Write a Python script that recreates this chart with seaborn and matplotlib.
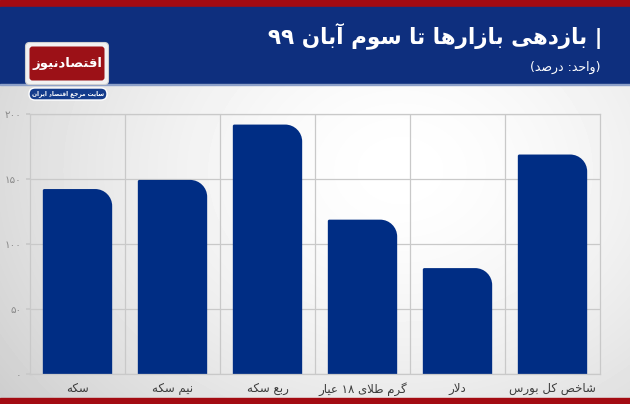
import numpy as np
import pandas as pd
import matplotlib.pyplot as plt
import seaborn as sns
from matplotlib.path import Path
from matplotlib.patches import PathPatch, Rectangle, FancyBboxPatch

# chart data
categories = ['سکه', 'نیم سکه', 'ربع سکه', 'گرم طلای ۱۸ عیار', 'دلار', 'شاخص کل بورس']
returns = [142, 149, 191.5, 118.5, 81.3, 168.5]
y_ticks = [0, 50, 100, 150, 200]
y_tick_labels = ['۰', '۵۰', '۱۰۰', '۱۵۰', '۲۰۰']
title = '| بازدهی بازارها تا سوم آبان ۹۹'
subtitle = '(واحد: درصد)'
logo_name = 'اقتصادنیوز'
logo_tag = 'سایت مرجع اقتصاد ایران'

# minimal arabic/persian shaping, matplotlib has no text shaping
FORMS = {
    'ا': ('\uFE8D', '\uFE8E', None, None),
    'آ': ('\uFE81', '\uFE82', None, None),
    'ب': ('\uFE8F', '\uFE90', '\uFE91', '\uFE92'),
    'پ': ('\uFB56', '\uFB57', '\uFB58', '\uFB59'),
    'ت': ('\uFE95', '\uFE96', '\uFE97', '\uFE98'),
    'ث': ('\uFE99', '\uFE9A', '\uFE9B', '\uFE9C'),
    'ج': ('\uFE9D', '\uFE9E', '\uFE9F', '\uFEA0'),
    'چ': ('\uFB7A', '\uFB7B', '\uFB7C', '\uFB7D'),
    'ح': ('\uFEA1', '\uFEA2', '\uFEA3', '\uFEA4'),
    'خ': ('\uFEA5', '\uFEA6', '\uFEA7', '\uFEA8'),
    'د': ('\uFEA9', '\uFEAA', None, None),
    'ذ': ('\uFEAB', '\uFEAC', None, None),
    'ر': ('\uFEAD', '\uFEAE', None, None),
    'ز': ('\uFEAF', '\uFEB0', None, None),
    'ژ': ('\uFB8A', '\uFB8B', None, None),
    'س': ('\uFEB1', '\uFEB2', '\uFEB3', '\uFEB4'),
    'ش': ('\uFEB5', '\uFEB6', '\uFEB7', '\uFEB8'),
    'ص': ('\uFEB9', '\uFEBA', '\uFEBB', '\uFEBC'),
    'ض': ('\uFEBD', '\uFEBE', '\uFEBF', '\uFEC0'),
    'ط': ('\uFEC1', '\uFEC2', '\uFEC3', '\uFEC4'),
    'ظ': ('\uFEC5', '\uFEC6', '\uFEC7', '\uFEC8'),
    'ع': ('\uFEC9', '\uFECA', '\uFECB', '\uFECC'),
    'غ': ('\uFECD', '\uFECE', '\uFECF', '\uFED0'),
    'ف': ('\uFED1', '\uFED2', '\uFED3', '\uFED4'),
    'ق': ('\uFED5', '\uFED6', '\uFED7', '\uFED8'),
    'ک': ('\uFB8E', '\uFB8F', '\uFB90', '\uFB91'),
    'گ': ('\uFB92', '\uFB93', '\uFB94', '\uFB95'),
    'ل': ('\uFEDD', '\uFEDE', '\uFEDF', '\uFEE0'),
    'م': ('\uFEE1', '\uFEE2', '\uFEE3', '\uFEE4'),
    'ن': ('\uFEE5', '\uFEE6', '\uFEE7', '\uFEE8'),
    'و': ('\uFEED', '\uFEEE', None, None),
    'ه': ('\uFEE9', '\uFEEA', '\uFEEB', '\uFEEC'),
    'ی': ('\uFBFC', '\uFBFD', '\uFBFE', '\uFBFF'),
    '\uFEFB': ('\uFEFB', '\uFEFC', None, None),
    '\uFEF5': ('\uFEF5', '\uFEF6', None, None),
}
MIRROR = {'(': ')', ')': '('}
DIGITS = set('0123456789۰۱۲۳۴۵۶۷۸۹')


def fa(text):
    s = text.replace('لا', '\uFEFB').replace('لآ', '\uFEF5')
    n = len(s)
    shaped = []
    for i, c in enumerate(s):
        if c not in FORMS:
            shaped.append(c)
            continue
        jp = i > 0 and s[i - 1] in FORMS and FORMS[s[i - 1]][2] is not None
        jn = FORMS[c][2] is not None and i + 1 < n and s[i + 1] in FORMS
        f = FORMS[c]
        shaped.append(f[3] if jp and jn else f[1] if jp else f[2] if jn else f[0])
    groups = []
    for ch in shaped:
        d = ch in DIGITS
        if groups and d and groups[-1][0]:
            groups[-1][1].append(ch)
        else:
            groups.append([d, [ch]])
    out = ''
    for d, chs in reversed(groups):
        out += ''.join(chs) if d else ''.join(MIRROR.get(c, c) for c in reversed(chs))
    return out


sns.set_theme(style='white')
plt.rcParams['font.family'] = ['DejaVu Sans']

W, H = 630, 404
fig = plt.figure(figsize=(W / 100, H / 100), dpi=100)

# background in pixel coordinates
bg = fig.add_axes([0, 0, 1, 1])
bg.set_xlim(0, W)
bg.set_ylim(H, 0)
bg.axis('off')
yy, xx = np.mgrid[0:H, 0:W]
d = np.sqrt(((xx - 400) / 420.0) ** 2 + ((yy - 170) / 330.0) ** 2)
grad = 1.0 - 0.15 * np.clip(d, 0, 1.3) ** 1.6
bg.imshow(grad, cmap='gray', vmin=0, vmax=1, extent=(0, W, H, 0), aspect='auto', zorder=0)

bg.add_patch(Rectangle((0, 0), W, 7, color='#a30b12', zorder=1))
bg.add_patch(Rectangle((0, 7), W, 77, color='#0e2f7e', zorder=1))
bg.add_patch(Rectangle((0, 84), W, 1.2, color='#8da0c8', zorder=1))
bg.add_patch(Rectangle((0, 398), W, 6, color='#a30b12', zorder=1))

bg.text(602, 43, fa(title), color='white', fontsize=15.5, fontweight='bold',
        ha='right', va='baseline', zorder=3)
bg.text(600, 67, fa(subtitle), color='white', fontsize=9,
        ha='right', va='center', zorder=3)

# logo
bg.add_patch(FancyBboxPatch((27, 44), 80, 39, boxstyle='round,pad=1.5,rounding_size=4',
                            fc='#f2f2f2', ec='#cfcfcf', lw=0.8, zorder=2))
bg.add_patch(FancyBboxPatch((29.5, 46.5), 75, 34, boxstyle='round,pad=0,rounding_size=3',
                            fc='#9c1117', ec='none', zorder=3))
bg.text(67, 63, fa(logo_name), color='white', fontsize=9.5, fontweight='bold',
        ha='center', va='center', zorder=4)
bg.add_patch(FancyBboxPatch((29, 88), 78, 12, boxstyle='round,pad=0,rounding_size=6',
                            fc='#143c8c', ec='white', lw=1, zorder=3))
bg.text(68, 94, fa(logo_tag), color='white', fontsize=4.2, fontweight='bold',
        ha='center', va='center', zorder=4)

# chart
ax = fig.add_axes([30 / W, 30 / H, 570 / W, 260.5 / H])
ax.set_facecolor('none')
df = pd.DataFrame({'market': categories, 'value': returns})
bar_color = '#002d84'
sns.barplot(data=df, x='market', y='value', color=bar_color, saturation=1,
            width=0.73, ax=ax, zorder=2)
ax.set_xlim(-0.5, len(categories) - 0.5)
ax.set_ylim(0, 200)

# rounded tops: big radius at top-right, almost square at top-left
px_x = 570 / len(categories)
px_y = 260.5 / 200
r_big, r_small = 17, 1.5
k = 0.5523
for p in list(ax.patches):
    x0, w, h = p.get_x(), p.get_width(), p.get_height()
    x1 = x0 + w
    bx, by = r_big / px_x, r_big / px_y
    sx, sy = r_small / px_x, r_small / px_y
    verts = [(x0, 0), (x0, h - sy),
             (x0, h - sy + k * sy), (x0 + sx - k * sx, h), (x0 + sx, h),
             (x1 - bx, h),
             (x1 - bx + k * bx, h), (x1, h - by + k * by), (x1, h - by),
             (x1, 0), (x0, 0)]
    codes = [Path.MOVETO, Path.LINETO,
             Path.CURVE4, Path.CURVE4, Path.CURVE4,
             Path.LINETO,
             Path.CURVE4, Path.CURVE4, Path.CURVE4,
             Path.LINETO, Path.CLOSEPOLY]
    p.set_visible(False)
    ax.add_patch(PathPatch(Path(verts, codes), fc=bar_color, ec='none', zorder=2))

grid_c = '#c9c9c9'
ax.set_yticks(y_ticks)
ax.set_yticklabels(y_tick_labels)
ax.set_xticks(range(len(categories)))
ax.set_xticklabels([fa(c) for c in categories])
ax.set_xticks(np.arange(0.5, len(categories) - 1, 1), minor=True)
ax.grid(axis='y', which='major', color=grid_c, lw=0.9, zorder=0)
ax.grid(axis='x', which='minor', color=grid_c, lw=0.9, zorder=0)
ax.grid(axis='x', which='major', visible=False)
ax.tick_params(axis='y', length=3, color=grid_c, labelsize=7.5, labelcolor='#8a8a8a', pad=3, left=True)
ax.tick_params(axis='x', which='both', length=0, labelsize=8.5, labelcolor='#3c3c3c', pad=6)
for s in ax.spines.values():
    s.set_visible(True)
    s.set_color(grid_c)
    s.set_linewidth(0.9)
ax.set_xlabel('')
ax.set_ylabel('')

fig.savefig('out.png', dpi=100)
